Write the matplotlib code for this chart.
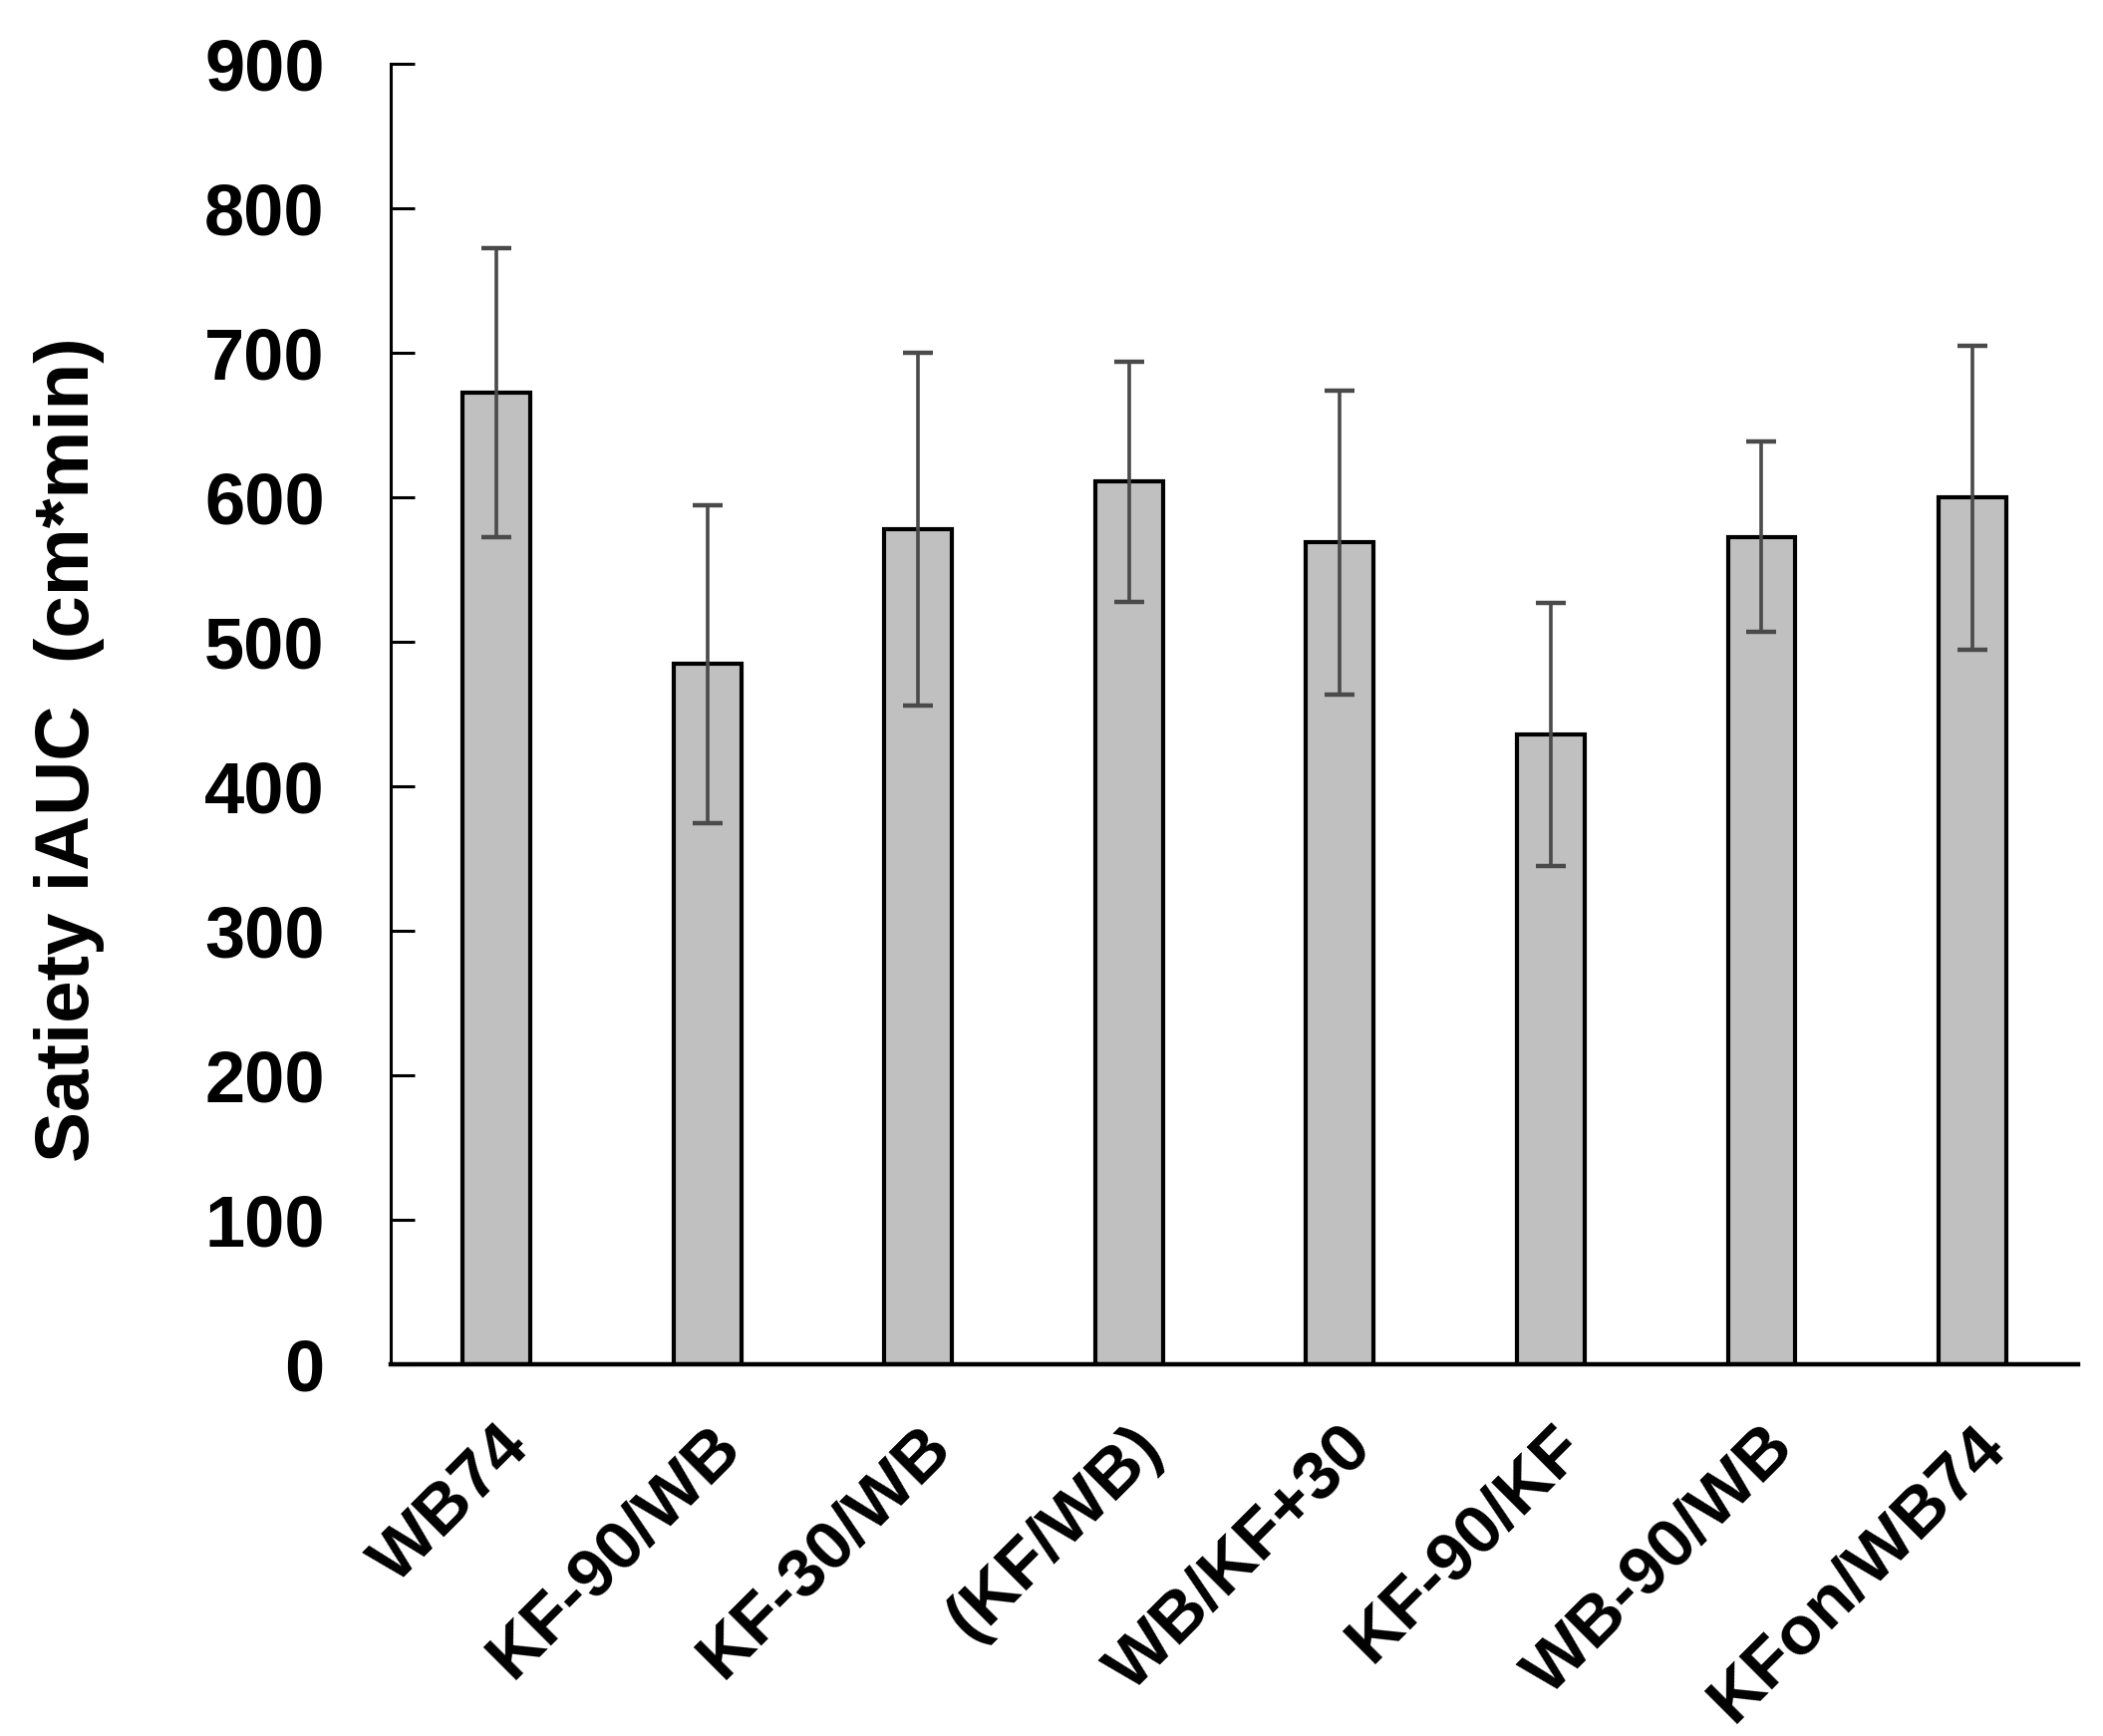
import matplotlib
matplotlib.use("Agg")
import matplotlib.pyplot as plt
import numpy as np

categories = ["WB74", "KF-90/WB", "KF-30/WB", "(KF/WB)", "WB/KF+30", "KF-90/KF", "WB-90/WB", "KFon/WB74"]
means = [673, 485, 578, 611, 569, 436, 573, 600]
errors = [100, 110, 122, 83, 105, 91, 66, 105]
yticks = [0, 100, 200, 300, 400, 500, 600, 700, 800, 900]

plt.rcParams['font.family'] = ['Liberation Sans', 'DejaVu Sans']
plt.rcParams['font.weight'] = 'bold'

fig = plt.figure(figsize=(21.1, 17.42), dpi=100)
ax = fig.add_axes([0.186, 0.214, 0.802, 0.749])

x = np.arange(len(categories))
ax.bar(x, means, width=0.32, color='#c0c0c0', edgecolor='black', linewidth=3, zorder=2)
ax.errorbar(x, means, yerr=errors, fmt='none', ecolor='#4a4a4a', elinewidth=2.6,
            capsize=11, capthick=3.2, zorder=3)

ax.set_xlim(-0.5, len(categories) - 0.5)
ax.set_ylim(0, 900)
ax.set_yticks(yticks)
ax.set_yticklabels([str(v) for v in yticks], fontsize=52, fontweight='bold')
ax.set_xticks(x)
ax.set_xticklabels(categories, rotation=45, ha='right', va='top', rotation_mode='anchor',
                   fontsize=50, fontweight='bold')
ax.tick_params(axis='y', direction='in', length=17, width=2.2, pad=48)
ax.tick_params(axis='x', length=0, pad=36)
ax.set_ylabel('Satiety iAUC  (cm*min)', fontsize=55, fontweight='bold')
ax.yaxis.set_label_coords(-0.17, 0.473)

ax.spines['top'].set_visible(False)
ax.spines['right'].set_visible(False)
ax.spines['left'].set_linewidth(2.2)
ax.spines['bottom'].set_linewidth(3.2)
ax.spines['bottom'].set_zorder(4)

fig.savefig('out.png', dpi=100)
